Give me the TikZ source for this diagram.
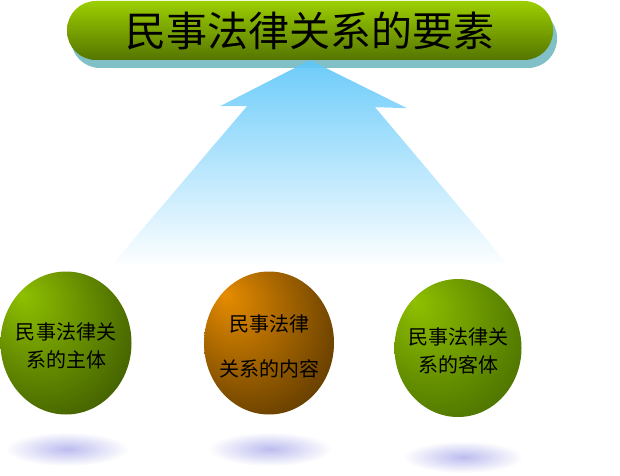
\documentclass[tikz,border=0pt]{standalone}
\usepackage{fontspec}
\newfontfamily\cjk{Noto Sans CJK SC}
\usepackage{xcolor}
\usepackage{tikz}
\usetikzlibrary{shapes.geometric,shadows,calc}

\definecolor{pillTop}{HTML}{9CCF00}
\definecolor{pillBot}{HTML}{557500}
\definecolor{pillShadow}{HTML}{80C0C6}
\definecolor{arrowTop}{HTML}{5CC6FA}
\definecolor{greenLight}{HTML}{8FC000}
\definecolor{greenDark}{HTML}{2A4200}
\definecolor{greenMid}{HTML}{4A7000}
\definecolor{orangeLight}{HTML}{E68C00}
\definecolor{orangeDark}{HTML}{3A2400}
\definecolor{hazeBlue}{HTML}{BCBCF0}

\pgfdeclareradialshading{ballsubject}{\pgfpoint{-17bp}{17bp}}{color(0bp)=(greenLight); color(48bp)=(greenDark); color(60bp)=(greenDark)}
\pgfdeclareradialshading{ballcontent}{\pgfpoint{-17bp}{17bp}}{color(0bp)=(orangeLight); color(48bp)=(orangeDark); color(60bp)=(orangeDark)}
\pgfdeclareradialshading{ballobject}{\pgfpoint{-17bp}{17bp}}{color(0bp)=(greenLight); color(38bp)=(greenMid); color(60bp)=(greenMid)}
\pgfdeclareradialshading{haze}{\pgfpoint{0bp}{0bp}}{color(0bp)=(hazeBlue); color(25bp)=(white); color(50bp)=(white)}

\begin{document}
\begin{tikzpicture}[
    x=1pt, y=1pt,
    font=\cjk,
    pill/.style={rectangle, rounded corners=29pt, minimum width=486pt, minimum height=59pt,
                 top color=pillTop, bottom color=pillBot, inner sep=0pt,
                 font=\cjk\fontsize{41}{41}\selectfont,
                 drop shadow={shadow xshift=4pt, shadow yshift=-8pt, fill=pillShadow, opacity=1}},
    ball/.style={ellipse, inner sep=0pt},
    balltext/.style={align=center, font=\cjk\fontsize{20}{28}\selectfont},
    haze/.style={ellipse, shading=haze, inner sep=0pt}
]
\useasboundingbox (0,0) rectangle (620,475);

% ---- Title bar ----
\node[pill] (title) at (310,444.5) {\raisebox{-3pt}{民事法律关系的要素}};

% ---- Three elements ----
\node[ball, shading=ballsubject, minimum width=131pt, minimum height=143pt,
      label={[balltext, yshift=-3pt]center:民事法律关\\系的主体}] (subject) at (66,132) {};
\node[ball, shading=ballcontent, minimum width=130pt, minimum height=143pt,
      label={[balltext, yshift=-3pt, font=\cjk\fontsize{20}{45}\selectfont]center:民事法律\\关系的内容}] (content) at (269,132) {};
\node[ball, shading=ballobject, minimum width=127pt, minimum height=138pt,
      label={[balltext, yshift=-3pt]center:民事法律关\\系的客体}] (object) at (458,127) {};

% ---- Soft shadows under the balls ----
\node[haze, minimum width=124pt, minimum height=34pt] (subjecthaze) at (67,26) {};
\node[haze, minimum width=124pt, minimum height=34pt] (contenthaze) at (270,26) {};
\node[haze, minimum width=120pt, minimum height=32pt] (objecthaze)  at (463,18) {};

% ---- Big arrow up to the title ----
\shade[top color=arrowTop, bottom color=white, opacity=0.9]
    (title.south) -- ($(title.south)+(-90,-46)$) -- ($(title.south)+(-63,-46)$)
    -- ($(title.south)+(-200,-207)$) -- ($(title.south)+(200,-207)$)
    -- ($(title.south)+(65,-47)$) -- ($(title.south)+(97,-48)$) -- cycle;

\end{tikzpicture}
\end{document}
